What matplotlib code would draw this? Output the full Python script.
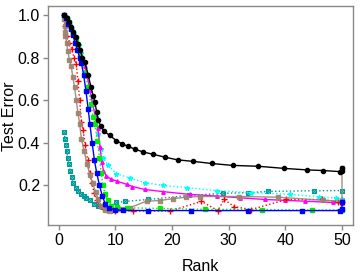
import matplotlib
matplotlib.use("Agg")
import matplotlib.pyplot as plt

plt.rcParams['font.family'] = ['Liberation Sans', 'DejaVu Sans']

# rank / test error per method
black_x = [1.0, 1.4, 1.8, 2.2, 2.6, 3.0, 3.4, 3.8, 4.2, 4.6, 5.2, 5.7, 6.1, 6.4, 6.7, 7.0,
           7.4, 8.0, 9.0, 10.2, 11.2, 12.3, 13.5, 14.9, 16.7, 18.7, 21.0, 23.7, 27.0,
           30.7, 35.2, 39.8, 43.8, 46.6, 49.6, 50.0, 50.0]
black_y = [1.0, 0.985, 0.965, 0.945, 0.92, 0.895, 0.865, 0.835, 0.80, 0.78, 0.72, 0.66,
           0.62, 0.59, 0.545, 0.505, 0.48, 0.455, 0.435, 0.41, 0.395, 0.383, 0.37, 0.357,
           0.346, 0.333, 0.32, 0.313, 0.303, 0.294, 0.29, 0.28, 0.273, 0.27, 0.265,
           0.268, 0.28]

blue_x = [1.0, 1.3, 1.7, 2.1, 2.5, 2.9, 3.3, 3.7, 4.0, 4.4, 4.8, 5.2, 5.5, 5.9, 6.3, 6.7,
          7.2, 7.7, 8.2, 8.8, 9.9, 11.4, 15.7, 23.3, 33.4, 43.0, 49.6, 50.0, 50.0]
blue_y = [1.0, 0.985, 0.96, 0.935, 0.905, 0.87, 0.835, 0.80, 0.775, 0.72, 0.645, 0.56,
          0.49, 0.40, 0.32, 0.26, 0.20, 0.15, 0.115, 0.095, 0.085, 0.083, 0.082, 0.082,
          0.082, 0.082, 0.082, 0.09, 0.12]

green_x = [1.0, 1.4, 1.8, 2.2, 2.6, 3.0, 3.4, 3.8, 4.2, 4.7, 5.2, 5.7, 6.1, 6.4, 6.8, 7.2,
           7.5, 7.8, 8.2, 8.7, 9.3, 10.3, 12.0, 17.8, 25.9, 35.9, 44.7, 50.0]
green_y = [1.0, 0.985, 0.965, 0.94, 0.91, 0.88, 0.845, 0.81, 0.78, 0.73, 0.66, 0.58,
           0.52, 0.49, 0.41, 0.33, 0.26, 0.20, 0.16, 0.13, 0.105, 0.098, 0.095, 0.092,
           0.088, 0.087, 0.084, 0.085]

magenta_x = [1.0, 1.4, 1.8, 2.2, 2.6, 3.0, 3.4, 3.8, 4.2, 4.6, 5.0, 5.5, 6.0, 6.5, 6.9,
             7.3, 7.6, 7.9, 8.4, 9.2, 10.3, 12.0, 13.0, 15.2, 18.4, 23.1, 28.0, 32.0,
             36.4, 40.0, 43.5, 48.4, 50.0]
magenta_y = [1.0, 0.985, 0.965, 0.945, 0.92, 0.89, 0.86, 0.83, 0.795, 0.76, 0.715, 0.65,
             0.58, 0.52, 0.47, 0.38, 0.31, 0.27, 0.245, 0.23, 0.22, 0.205, 0.195, 0.181,
             0.171, 0.158, 0.15, 0.142, 0.134, 0.13, 0.126, 0.12, 0.118]

cyan_x = [1.0, 1.5, 2.0, 2.5, 3.0, 3.5, 4.0, 4.5, 5.0, 5.5, 6.0, 6.5, 7.0, 7.4, 7.8, 8.7,
          10.2, 12.5, 15.2, 18.4, 22.6, 27.9, 34.0, 40.8, 46.0, 49.0, 50.0]
cyan_y = [1.0, 0.98, 0.955, 0.925, 0.895, 0.86, 0.82, 0.775, 0.72, 0.66, 0.59, 0.52,
          0.44, 0.37, 0.33, 0.295, 0.255, 0.235, 0.213, 0.20, 0.19, 0.176, 0.166, 0.158,
          0.147, 0.14, 0.138]

red_x = [1.0, 1.2, 1.5, 1.9, 2.3, 2.7, 3.1, 3.4, 3.7, 4.0, 4.3, 4.7, 5.1, 5.5, 5.8, 6.3,
         6.8, 7.3, 7.8, 8.6, 10.0, 13.2, 19.7, 25.2, 28.1, 29.2, 31.0, 34.0, 40.2, 46.4,
         49.3, 50.0]
red_y = [1.0, 0.95, 0.90, 0.87, 0.84, 0.80, 0.77, 0.69, 0.60, 0.50, 0.46, 0.39, 0.32,
         0.26, 0.21, 0.165, 0.13, 0.105, 0.092, 0.085, 0.08, 0.08, 0.08, 0.125, 0.082,
         0.134, 0.10, 0.087, 0.134, 0.134, 0.124, 0.12]

brown_x = [1.0, 1.05, 1.1, 1.2, 1.4, 1.6, 1.9, 2.2, 2.5, 2.8, 3.1, 3.4, 3.7, 4.0, 4.5,
           5.0, 5.5, 6.0, 6.5, 7.0, 7.5, 8.1, 9.0, 10.8, 12.5, 15.5, 17.8, 20.2, 22.5,
           24.9, 31.8, 38.7, 46.7, 50.0, 50.0]
brown_y = [0.98, 0.95, 0.92, 0.90, 0.87, 0.83, 0.79, 0.76, 0.71, 0.66, 0.60, 0.54, 0.49,
           0.42, 0.36, 0.30, 0.25, 0.21, 0.17, 0.135, 0.105, 0.083, 0.082, 0.09, 0.095,
           0.126, 0.129, 0.138, 0.145, 0.148, 0.148, 0.145, 0.13, 0.126, 0.28]

teal_x = [1.0, 1.1, 1.25, 1.4, 1.6, 1.8, 2.0, 2.3, 2.6, 3.0, 3.4, 3.9, 4.4, 4.9, 5.5,
          6.3, 7.0, 7.8, 8.5, 10.2, 11.7, 15.8, 23.0, 29.0, 33.4, 37.0, 45.0, 50.0]
teal_y = [0.45, 0.42, 0.39, 0.36, 0.33, 0.30, 0.27, 0.24, 0.21, 0.19, 0.175, 0.16, 0.15,
          0.14, 0.13, 0.115, 0.105, 0.097, 0.095, 0.12, 0.125, 0.134, 0.153, 0.163,
          0.166, 0.172, 0.175, 0.176]

fig = plt.figure(figsize=(3.6, 2.77), dpi=100)
ax = fig.add_axes([0.1325, 0.186, 0.848, 0.792])

ax.plot(teal_x, teal_y, color='#009b9b', ls=':', lw=1, marker='s', ms=3,
        mfc='none', mew=0.8)
ax.plot(teal_x, teal_y, color='#009b9b', ls='none', marker='x', ms=2.5, mew=0.8)
ax.plot(cyan_x, cyan_y, color='#00ffff', ls=':', lw=1, marker='*', ms=3.5)
ax.plot(magenta_x, magenta_y, color='#ff00ff', ls='-', lw=1, marker='^', ms=2.5)
ax.plot(red_x, red_y, color='#ff0000', ls=':', lw=1, marker='+', ms=5, mew=1)
ax.plot(brown_x, brown_y, color='#9c8470', ls='-', lw=1, marker='s', ms=3.2, alpha=0.9)
ax.plot(green_x, green_y, color='#00ee00', ls=':', lw=1, marker='s', ms=2.6)
ax.plot(blue_x, blue_y, color='#0000ff', ls='-', lw=1, marker='s', ms=2.6)
ax.plot(black_x, black_y, color='black', ls='-', lw=1, marker='o', ms=3)

ax.set_xlim(-1.94, 51.94)
ax.set_ylim(0.012, 1.042)
ax.set_xticks([0, 10, 20, 30, 40, 50])
ax.set_yticks([0.2, 0.4, 0.6, 0.8, 1.0])

for s in ax.spines.values():
    s.set_color('#888888')
    s.set_linewidth(1)
ax.tick_params(colors='#888888', labelcolor='black', labelsize=11.5, length=3.5,
               width=1, pad=2)

ax.set_xlabel('Rank', fontsize=11.5)
ax.set_ylabel('Test Error', fontsize=11.5)
ax.xaxis.set_label_coords(0.5, -0.155)
ax.yaxis.set_label_coords(-0.1, 0.5)

fig.savefig('out.png', dpi=100)
